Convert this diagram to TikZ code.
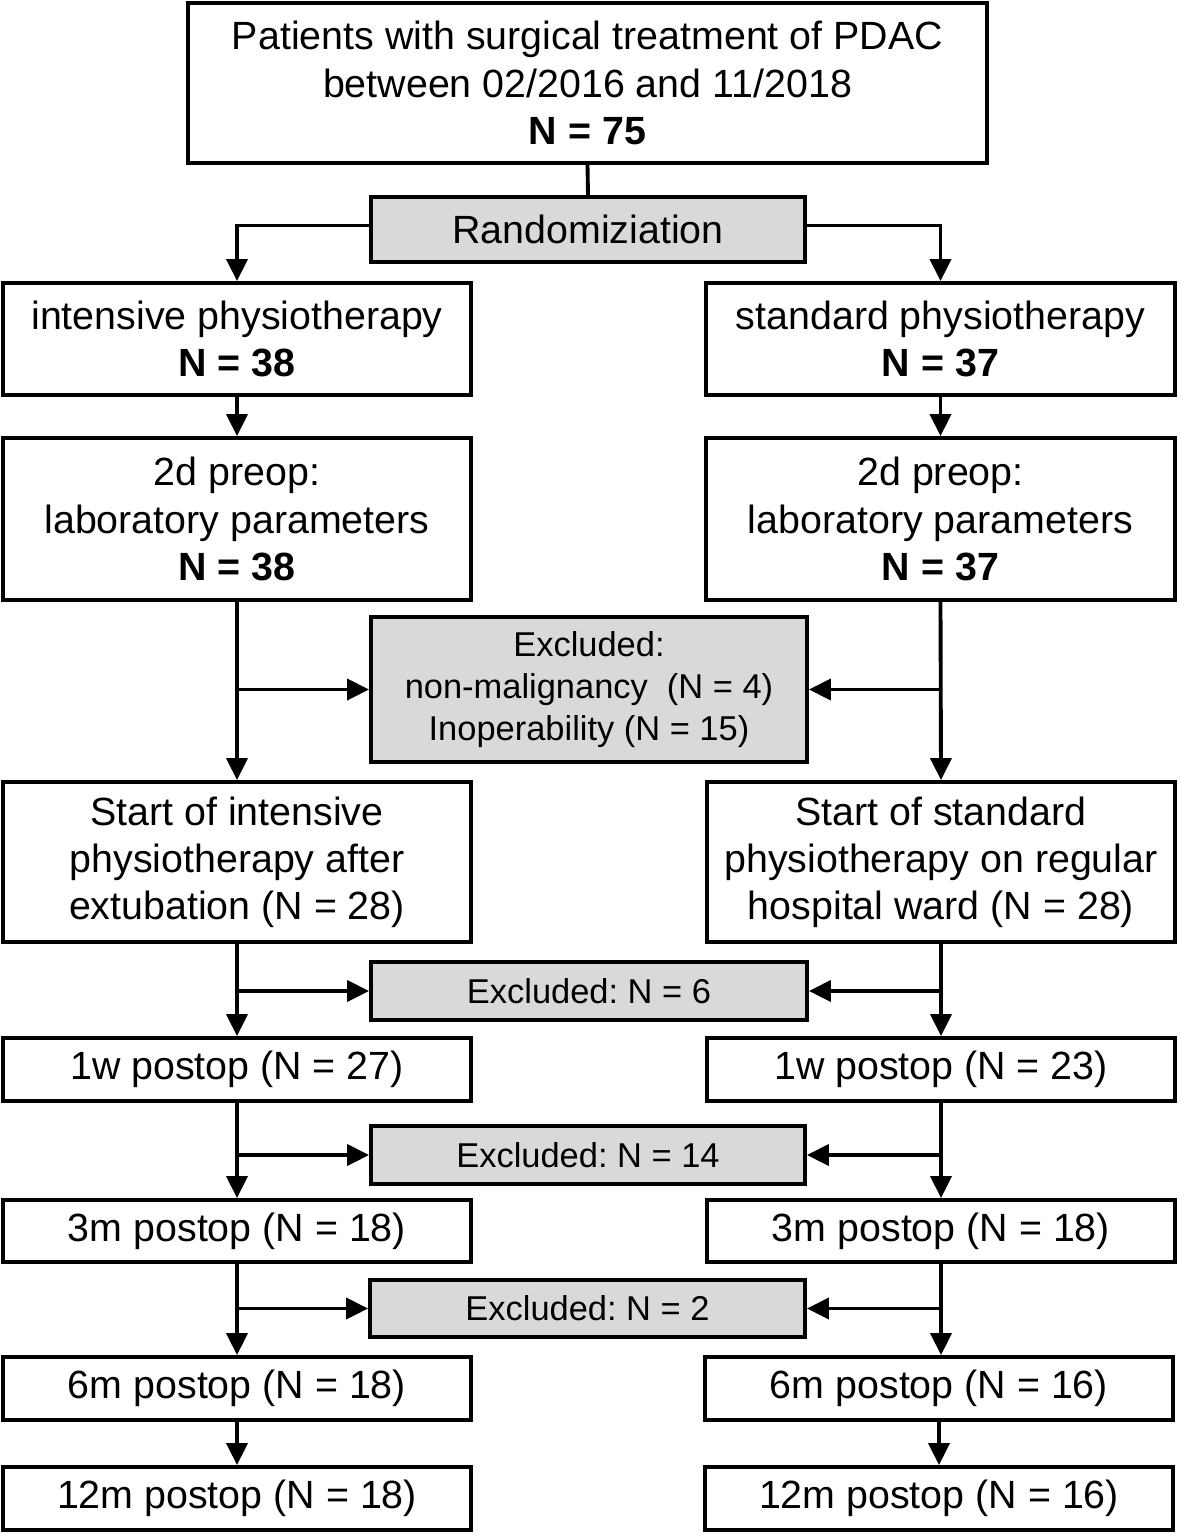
\documentclass[tikz,border=0pt]{standalone}
\usepackage{fontspec}
\setmainfont{Liberation Sans}
\usetikzlibrary{arrows.meta}
\definecolor{boxgrey}{RGB}{217,217,217}
\newcommand{\bigtxt}{\fontsize{11.2}{13.4}\selectfont}
\newcommand{\smalltxt}{\fontsize{9.8}{12}\selectfont}
\begin{document}
\begin{tikzpicture}[
  box/.style={draw,line width=1.1pt,align=center,inner sep=0pt,font=\bigtxt},
  greybox/.style={box,fill=boxgrey},
  arr/.style={line width=1.1pt,-{Triangle[length=0.22cm,width=0.21cm]}},
  ln/.style={line width=1.1pt}]
\useasboundingbox (0,0) rectangle (11.8,-15.36);
% top part
\node[box,minimum width=7.99cm,minimum height=1.6cm] (top) at (5.875,-0.83)
  {Patients with surgical treatment of PDAC\\between 02/2016 and 11/2018\\\textbf{N = 75}};
\node[greybox,minimum width=4.34cm,minimum height=0.65cm] (rand) at (5.88,-2.295) {Randomiziation};
% left column
\node[box,minimum width=4.68cm,minimum height=1.12cm] (i1) at (2.37,-3.39) {intensive physiotherapy\\\textbf{N = 38}};
\node[box,minimum width=4.68cm,minimum height=1.62cm] (i2) at (2.37,-5.19) {2d preop:\\laboratory parameters\\\textbf{N = 38}};
\node[box,minimum width=4.68cm,minimum height=1.6cm] (i3) at (2.37,-8.62) {Start of intensive\\physiotherapy after\\extubation (N = 28)};
\node[box,minimum width=4.68cm,minimum height=0.63cm] (i4) at (2.37,-10.695) {1w postop (N = 27)};
\node[box,minimum width=4.68cm,minimum height=0.62cm] (i5) at (2.37,-12.31) {3m postop (N = 18)};
\node[box,minimum width=4.68cm,minimum height=0.63cm] (i6) at (2.37,-13.885) {6m postop (N = 18)};
\node[box,minimum width=4.68cm,minimum height=0.63cm] (i7) at (2.37,-14.985) {12m postop (N = 18)};
% right column
\node[box,minimum width=4.69cm,minimum height=1.12cm] (s1) at (9.405,-3.39) {standard physiotherapy\\\textbf{N = 37}};
\node[box,minimum width=4.69cm,minimum height=1.62cm] (s2) at (9.405,-5.19) {2d preop:\\laboratory parameters\\\textbf{N = 37}};
\node[box,minimum width=4.68cm,minimum height=1.6cm] (s3) at (9.41,-8.62) {Start of standard\\physiotherapy on regular\\hospital ward (N = 28)};
\node[box,minimum width=4.68cm,minimum height=0.63cm] (s4) at (9.41,-10.695) {1w postop (N = 23)};
\node[box,minimum width=4.68cm,minimum height=0.62cm] (s5) at (9.41,-12.31) {3m postop (N = 18)};
\node[box,minimum width=4.68cm,minimum height=0.63cm] (s6) at (9.39,-13.885) {6m postop (N = 16)};
\node[box,minimum width=4.68cm,minimum height=0.63cm] (s7) at (9.39,-14.985) {12m postop (N = 16)};
% exclusions
\node[greybox,font=\smalltxt,minimum width=4.36cm,minimum height=1.45cm] (ex1) at (5.89,-6.895)
  {Excluded:\\non-malignancy\ \ (N = 4)\\Inoperability (N = 15)};
\node[greybox,font=\smalltxt,minimum width=4.36cm,minimum height=0.58cm] (ex2) at (5.89,-9.91) {Excluded:\ N = 6};
\node[greybox,font=\smalltxt,minimum width=4.34cm,minimum height=0.58cm] (ex3) at (5.88,-11.55) {Excluded:\ N = 14};
\node[greybox,font=\smalltxt,minimum width=4.35cm,minimum height=0.57cm] (ex4) at (5.875,-13.085) {Excluded:\ N = 2};
% connectors
\draw[ln] (top.south) -- (rand.north);
\draw[arr] ([yshift=0.04cm]rand.west) -| (i1.north);
\draw[arr] ([yshift=0.04cm]rand.east) -| (s1.north);
\draw[arr] (i1) -- (i2);
\draw[arr] (s1) -- (s2);
\draw[arr] (i2.south) -- (i3.north);
\draw[arr] (s2.south) -- (s3.north);
\draw[arr] (i3.south) -- (i4.north);
\draw[arr] (s3.south) -- (s4.north);
\draw[arr] (i4.south) -- (i5.north);
\draw[arr] (s4.south) -- (s5.north);
\draw[arr] (i5.south) -- (i6.north);
\draw[arr] (s5.south) -- (s6.north -| s5.south);
\draw[arr] (i6) -- (i7);
\draw[arr] (s6) -- (s7);
\foreach \a/\b/\e in {i2/s2/ex1,i3/s3/ex2,i4/s4/ex3,i5/s5/ex4}{
  \coordinate (L\e) at (\a.south |- \e.west);
  \coordinate (R\e) at (\b.south |- \e.east);
  \draw[arr] (L\e) -- (\e.west);
  \draw[arr] (R\e) -- (\e.east);
}
\end{tikzpicture}
\end{document}
